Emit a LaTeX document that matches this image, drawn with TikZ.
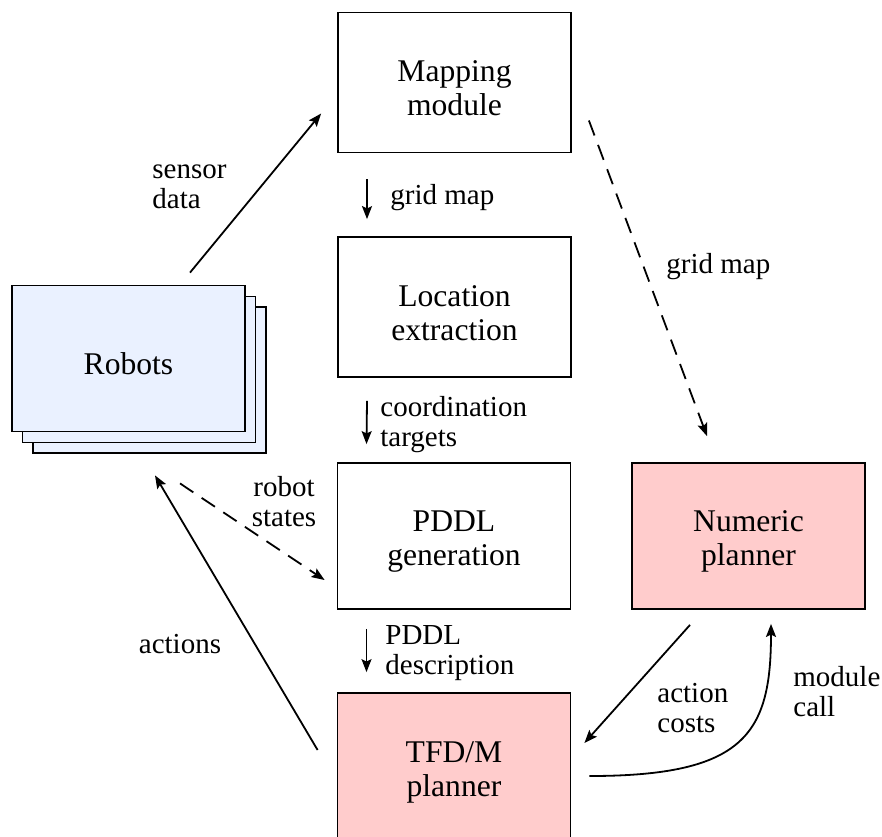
\documentclass[tikz,border=0pt]{standalone}
\usepackage{fontspec}
\setmainfont{Liberation Serif}
\usetikzlibrary{arrows.meta,calc}
\definecolor{robotfill}{HTML}{EAF1FF}
\definecolor{planfill}{HTML}{FFCCCC}
\newcommand{\boxstrut}{\rule{0pt}{16.2pt}}
\begin{document}
\begin{tikzpicture}[x=0.5pt,y=-0.5pt,
  box/.style={draw,line width=0.9pt,minimum width=116.5pt,minimum height=70pt,inner sep=0pt,align=center,font=\fontsize{15.8}{17}\selectfont},
  lbl/.style={inner sep=0pt,align=left,anchor=west,font=\fontsize{14.5}{15}\selectfont},
  conn/.style={line width=0.9pt,-{Stealth[length=6.5pt,width=5pt,inset=1.2pt]}},
  dconn/.style={conn,dash pattern=on 8pt off 5pt}]
\useasboundingbox (0,0) rectangle (882,836);
% boxes
\node[box] (map) at (454.5,82.5) {\boxstrut Mapping\\module};
\node[box] (loc) at (454.5,307) {\boxstrut Location\\extraction};
\node[box,minimum height=73pt] (pddl) at (454,536) {\boxstrut PDDL\\generation};
\node[box,minimum height=73pt,fill=planfill] (num) at (748.5,536) {\boxstrut Numeric\\planner};
\node[box,minimum height=74pt,fill=planfill] (tfd) at (454,767) {\boxstrut TFD/M\\planner};
\node[box,minimum height=73pt,fill=robotfill] (robots3) at (149.5,380) {};
\node[box,minimum height=73pt,fill=robotfill] (robots2) at (139,369.5) {};
\node[box,minimum height=73pt,fill=robotfill] (robots) at (128.5,358.5) {\boxstrut Robots};
% connectors
\draw[conn] ($(robots.north)+(61.5,-12)$) -- ($(map.west)+(-16,31)$);
\draw[conn] ($(map.south)+(-87.5,26)$) -- ($(loc.north)+(-87.5,-17)$);
\draw[dconn] ($(map.east)+(17,38)$) -- ($(num.north)+(-41.5,-26)$);
\draw[conn] ($(loc.south)+(-87.5,23)$) -- ($(pddl.north)+(-87.5,-18)$);
\draw[dconn] ($(robots.south)+(51.5,51)$) -- ($(pddl.west)+(-12,44)$);
\draw[conn] ($(pddl.south)+(-87.5,19)$) -- ($(tfd.north)+(-87.5,-20)$);
\draw[conn] ($(tfd.west)+(-19,-17)$) -- ($(robots.south)+(26.5,43)$);
\draw[conn] ($(num.south)+(-58.5,15)$) -- ($(tfd.east)+(13,-24)$);
\coordinate (mcs) at ($(tfd.east)+(18,9)$);
\coordinate (mce) at ($(num.south)+(22.5,14)$);
\draw[conn] (mcs) .. controls ($(mcs)+(155,0)$) and ($(mce)+(0,110)$) .. (mce);
% labels
\node[lbl] (l1) at (152,187) {sensor\\data};
\node[lbl] (l2) at (390,198) {grid map};
\node[lbl] (l3) at (666,267) {grid map};
\node[lbl] (l4) at (380,425) {coordination\\targets};
\node[lbl,align=center,anchor=center] (l5) at (284,502) {robot\\states};
\node[lbl] (l6) at (385,653) {PDDL\\description};
\node[lbl,anchor=center] (l7) at (180,644) {actions};
\node[lbl] (l8) at (657,708) {action\\costs};
\node[lbl] (l9) at (793,692) {module\\call};
\end{tikzpicture}
\end{document}
